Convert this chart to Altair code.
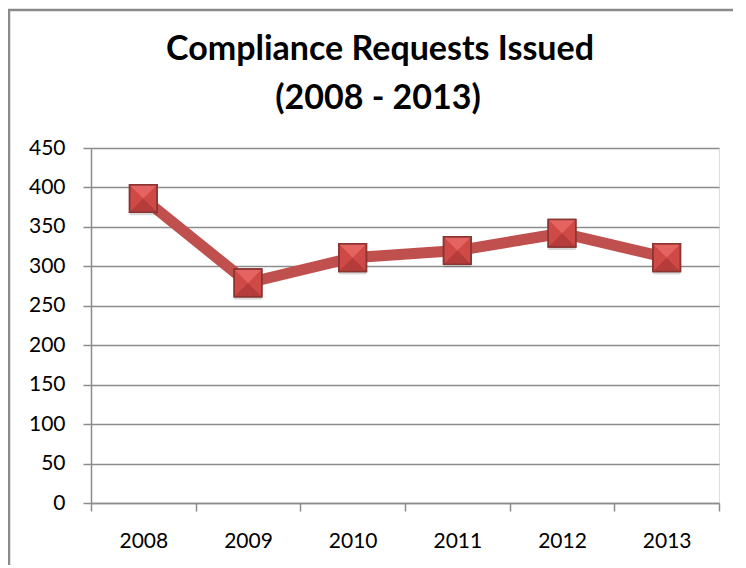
import altair as alt
import pandas as pd

years = ["2008", "2009", "2010", "2011", "2012", "2013"]
requests = [386, 279, 311, 320, 342, 311]
title_lines = ["Compliance Requests Issued", "(2008 - 2013)"]

df = pd.DataFrame({"year": years, "requests": requests})
frame_df = pd.DataFrame({"k": [0]})
title_df = pd.DataFrame({"text": title_lines, "line": [0, 1]})

FONT = "Lato"
RED = "#C0504D"

x_enc = alt.X("year:O", sort=years,
              scale=alt.Scale(type="band", paddingInner=0, paddingOuter=0),
              axis=alt.Axis(title=None, labelAngle=0, tickBand="extent", grid=False,
                            tickSize=8, labelPadding=19, labelFontSize=21, labelFont=FONT,
                            labelColor="#000000", domainColor="#8c8c8c", tickColor="#8c8c8c",
                            domainWidth=1.5, tickWidth=1.5))
y_enc = alt.Y("requests:Q",
              scale=alt.Scale(domain=[0, 450], nice=False, zero=True),
              axis=alt.Axis(title=None, values=list(range(0, 451, 50)), tickSize=8,
                            labelPadding=18, labelFontSize=21, labelFont=FONT,
                            labelColor="#000000", domainColor="#8c8c8c", tickColor="#8c8c8c",
                            gridColor="#8c8c8c", gridWidth=1.3, domainWidth=1.5, tickWidth=1.5))

base = alt.Chart(df).encode(x=x_enc, y=y_enc)

line = base.mark_line(color=RED, strokeWidth=11, strokeJoin="miter")
shadow = base.mark_point(shape="square", filled=True, size=760, color="#000000",
                         opacity=0.15).encode(yOffset=alt.value(3))
square = base.mark_point(shape="square", filled=True, size=760, fill="#CF4A47",
                         stroke="#8B3533", strokeWidth=1.5, opacity=1)
top_tri = base.mark_point(shape="M-0.95,-0.95L0.95,-0.95L0,0Z", filled=True, size=760,
                          fill="#E46461", strokeWidth=0, opacity=1)
bot_tri = base.mark_point(shape="M-0.95,0.95L0.95,0.95L0,0Z", filled=True, size=760,
                          fill="#B53C3A", strokeWidth=0, opacity=1)
outline = base.mark_point(shape="square", filled=False, size=760,
                          stroke="#8B3533", strokeWidth=1.5, opacity=1)

border_v = alt.Chart(frame_df).mark_rule(stroke="#8a8a8a", strokeWidth=2.5).encode(
    x=alt.value(-82), y=alt.value(-139), y2=alt.value(420))
border_h = alt.Chart(frame_df).mark_rule(stroke="#8a8a8a", strokeWidth=2.5).encode(
    y=alt.value(-138), x=alt.value(-83), x2=alt.value(700))

title1 = alt.Chart(title_df).transform_filter("datum.line == 0").mark_text(
    font=FONT, fontSize=34, fontWeight="bold", color="#000000", align="center",
    baseline="alphabetic").encode(text="text:N", x=alt.value(289), y=alt.value(-88))
title2 = alt.Chart(title_df).transform_filter("datum.line == 1").mark_text(
    font=FONT, fontSize=34, fontWeight="bold", color="#000000", align="center",
    baseline="alphabetic").encode(text="text:N", x=alt.value(287), y=alt.value(-39))

chart = alt.layer(border_v, border_h, title1, title2, line, shadow, square, top_tri,
                  bot_tri, outline).properties(
    width=628, height=355,
    autosize=alt.AutoSizeParams(type="none"),
    padding={"left": 83, "top": 140, "right": 14, "bottom": 62},
).configure_view(stroke=None).configure(background="white")

chart.save("out.html", embed_options={"renderer": "svg", "actions": False})
